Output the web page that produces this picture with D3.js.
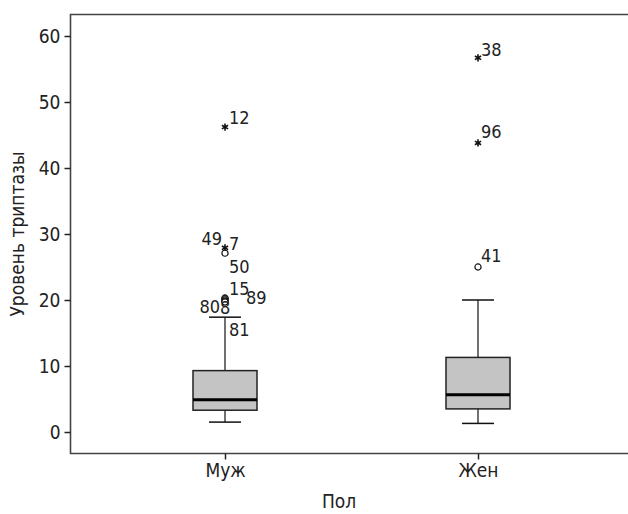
<!DOCTYPE html>
<html>
<head>
<meta charset="utf-8">
<script src="https://cdn.jsdelivr.net/npm/d3@7"></script>
<style>
  body { margin: 0; background: #fff; }
  text { font-family: "DejaVu Sans Condensed", "DejaVu Sans", sans-serif; font-stretch: condensed; fill: #222; }
</style>
</head>
<body>
<div id="chart"></div>
<script>
var groups = ['Муж', 'Жен'];
// box stats: whisker low, q1, median, q3, whisker high
var whiskerLow = [1.5, 1.3];
var q1 = [3.3, 3.5];
var median = [4.9, 5.65];
var q3 = [9.3, 11.3];
var whiskerHigh = [17.4, 20];
// outliers: group, case number, value, type (o = circle, e = extreme star)
var outliers = [
  { g: 'Муж', id: '12', v: 46.2, t: 'e' },
  { g: 'Муж', id: '7', v: 27.9, t: 'e' },
  { g: 'Муж', id: '49', v: 27.1, t: 'o' },
  { g: 'Муж', id: '50', v: 20.3, t: 'o' },
  { g: 'Муж', id: '15', v: 20.2, t: 'o' },
  { g: 'Муж', id: '89', v: 20.0, t: 'o' },
  { g: 'Муж', id: '80', v: 19.8, t: 'o' },
  { g: 'Муж', id: '8', v: 19.7, t: 'o' },
  { g: 'Муж', id: '81', v: 19.7, t: 'o' },
  { g: 'Жен', id: '38', v: 56.7, t: 'e' },
  { g: 'Жен', id: '96', v: 43.8, t: 'e' },
  { g: 'Жен', id: '41', v: 25.0, t: 'o' }
];
var yTicks = [0, 10, 20, 30, 40, 50, 60];

// label offsets from the point (layout only), keyed by case number
var labelPos = {
  '12': [4, -3, 'start'], '7': [4, 2, 'start'], '49': [-3, -8, 'end'],
  '50': [4, -25, 'start'], '15': [4, -4, 'start'], '89': [21, 4, 'start'],
  '80': [-5, 12, 'end'], '8': [-5, 12, 'start'], '81': [4, 34, 'start'],
  '38': [3, -2, 'start'], '96': [3, -5, 'start'], '41': [3, -5, 'start']
};

var W = 628, H = 514;
var mLeft = 70.5, mTop = 14.5, mRight = 628, mBottom = 453.5;

var svg = d3.select('#chart').append('svg')
  .attr('width', W).attr('height', H);

var x = d3.scalePoint().domain(groups).range([225, 478]);
var y = d3.scaleLinear().domain([0, 60]).range([432, 36]);

// frame (no right side)
svg.append('path')
  .attr('d', 'M' + mRight + ',' + mTop + 'H' + mLeft + 'V' + mBottom + 'H' + mRight)
  .attr('fill', 'none').attr('stroke', '#444').attr('stroke-width', 1.6);

// y axis
var yAxis = svg.append('g')
  .attr('transform', 'translate(' + mLeft + ',0)')
  .call(d3.axisLeft(y).tickValues(yTicks).tickSize(6).tickPadding(4));
yAxis.select('.domain').remove();
yAxis.selectAll('line').attr('stroke', '#222').attr('stroke-width', 1.5);
yAxis.selectAll('text').attr('font-size', 19).attr('fill', '#222');

// x axis
var xAxis = svg.append('g')
  .attr('transform', 'translate(0,' + mBottom + ')')
  .call(d3.axisBottom(x).tickSize(6).tickPadding(4));
xAxis.select('.domain').remove();
xAxis.selectAll('line').attr('stroke', '#222').attr('stroke-width', 1.5);
xAxis.selectAll('text').attr('font-size', 19).attr('fill', '#222');

// axis titles
svg.append('text')
  .attr('x', 339).attr('y', 508)
  .attr('text-anchor', 'middle').attr('font-size', 19)
  .text('Пол');
svg.append('text')
  .attr('transform', 'translate(24,' + 234 + ') rotate(-90)')
  .attr('text-anchor', 'middle').attr('font-size', 19)
  .text('Уровень триптазы');

// boxes
var boxW = 64, capW = 32;
var bx = svg.selectAll('.box').data(groups).enter().append('g').attr('class', 'box');

bx.append('line')
  .attr('x1', d => x(d)).attr('x2', d => x(d))
  .attr('y1', (d, i) => y(whiskerHigh[i])).attr('y2', (d, i) => y(whiskerLow[i]))
  .attr('stroke', '#111').attr('stroke-width', 1.2);
bx.append('line')
  .attr('x1', d => x(d) - capW / 2).attr('x2', d => x(d) + capW / 2)
  .attr('y1', (d, i) => y(whiskerHigh[i])).attr('y2', (d, i) => y(whiskerHigh[i]))
  .attr('stroke', '#111').attr('stroke-width', 1.5);
bx.append('line')
  .attr('x1', d => x(d) - capW / 2).attr('x2', d => x(d) + capW / 2)
  .attr('y1', (d, i) => y(whiskerLow[i])).attr('y2', (d, i) => y(whiskerLow[i]))
  .attr('stroke', '#111').attr('stroke-width', 1.5);
bx.append('rect')
  .attr('x', d => x(d) - boxW / 2).attr('width', boxW)
  .attr('y', (d, i) => y(q3[i])).attr('height', (d, i) => y(q1[i]) - y(q3[i]))
  .attr('fill', '#c4c4c4').attr('stroke', '#222').attr('stroke-width', 1.5);
bx.append('line')
  .attr('x1', d => x(d) - boxW / 2).attr('x2', d => x(d) + boxW / 2)
  .attr('y1', (d, i) => y(median[i])).attr('y2', (d, i) => y(median[i]))
  .attr('stroke', '#000').attr('stroke-width', 3);

// outliers
var drawn = outliers.filter(d => d.id !== '81');
svg.selectAll('.out').data(drawn).enter().append('path')
  .attr('class', 'out')
  .attr('transform', d => 'translate(' + x(d.g) + ',' + y(d.v) + ')')
  .attr('d', d => d.t === 'e'
    ? d3.symbol(d3.symbolAsterisk, 36)()
    : d3.symbol(d3.symbolCircle, 30)())
  .attr('fill', d => d.t === 'e' ? 'none' : '#fff')
  .attr('stroke', '#111')
  .attr('stroke-width', d => d.t === 'e' ? 1.6 : 1.2);

svg.selectAll('.lab').data(outliers).enter().append('text')
  .attr('class', 'lab')
  .attr('x', d => x(d.g) + labelPos[d.id][0])
  .attr('y', d => y(d.v) + labelPos[d.id][1])
  .attr('text-anchor', d => labelPos[d.id][2])
  .attr('font-size', 18)
  .text(d => d.id);
</script>
</body>
</html>
